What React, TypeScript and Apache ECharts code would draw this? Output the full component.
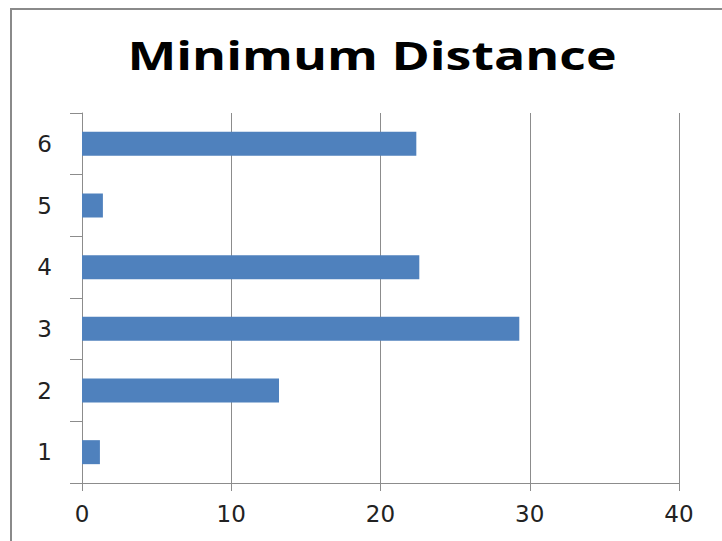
import React, { useEffect, useRef } from "react";
import * as echarts from "echarts";

const categories = ["1", "2", "3", "4", "5", "6"];
const values = [1.2, 13.2, 29.3, 22.6, 1.4, 22.4];
const xTicks = { min: 0, max: 40, interval: 10 };
const title = "Minimum Distance";

export default function App() {
  const ref = useRef<HTMLDivElement>(null);
  useEffect(() => {
    const chart = echarts.init(ref.current!, null, { renderer: "svg" });
    chart.setOption({
      animation: false,
      backgroundColor: "#ffffff",
      graphic: [
        {
          type: "rect",
          shape: { x: 11, y: 9, width: 800, height: 600 },
          style: { fill: "none", stroke: "#8a8a8a", lineWidth: 2 },
          silent: true,
        },
        {
          type: "text",
          x: 372,
          y: 55,
          scaleX: 1.33,
          style: {
            text: title,
            fontFamily: "Open Sans",
            fontWeight: "bold",
            fontSize: 39,
            fill: "#000",
            textAlign: "center",
            textVerticalAlign: "middle",
          },
          silent: true,
        },
      ],
      grid: { left: 82, right: 43, top: 113, bottom: 58 },
      xAxis: {
        type: "value",
        min: xTicks.min,
        max: xTicks.max,
        interval: xTicks.interval,
        axisLine: { show: true, lineStyle: { color: "#8c8c8c", width: 1 } },
        axisTick: { show: true, length: 8, lineStyle: { color: "#8c8c8c" } },
        splitLine: { show: true, lineStyle: { color: "#8c8c8c", width: 1 } },
        axisLabel: { margin: 19, fontFamily: "DejaVu Sans", fontSize: 23, color: "#222" },
      },
      yAxis: {
        type: "category",
        data: categories,
        axisLine: { show: true, lineStyle: { color: "#8c8c8c", width: 1 } },
        axisTick: { show: true, length: 12, inside: false, lineStyle: { color: "#8c8c8c" } },
        axisLabel: { margin: 30, fontFamily: "DejaVu Sans", fontSize: 23, color: "#222" },
      },
      series: [
        {
          type: "bar",
          data: values,
          barWidth: 24,
          itemStyle: { color: "#4F81BD" },
        },
      ],
    });
    return () => chart.dispose();
  }, []);
  return <div ref={ref} style={{ position: "fixed", left: 0, top: 0, width: 722, height: 541 }} />;
}
